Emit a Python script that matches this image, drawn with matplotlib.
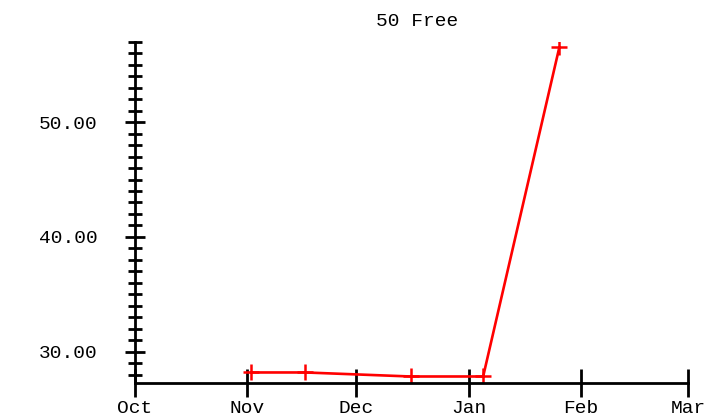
import matplotlib
matplotlib.use("Agg")
import matplotlib.pyplot as plt
import numpy as np
import pandas as pd

# tempos (50 livre) por data
datas = pd.to_datetime(["2013-11-02", "2013-11-17", "2013-12-16", "2014-01-05", "2014-01-26"])
tempos = [28.2, 28.2, 27.85, 27.85, 56.5]

meses = pd.to_datetime(["2013-10-01T00:00", "2013-11-01T00:00", "2013-12-01T00:00", "2014-01-01T00:00",
                        "2014-02-01T00:00", "2014-03-02T12:00"])
nomes_meses = ["Oct", "Nov", "Dec", "Jan", "Feb", "Mar"]
y_major = [30, 40, 50]
y_minor = np.arange(28, 58, 1)

fonte = "Liberation Mono"

fig = plt.figure(figsize=(7.08, 4.17), dpi=100)
ax = fig.add_axes([0.1907, 0.0820, 0.7811, 0.8180])

ax.plot(datas, tempos, color="red", lw=1.9, marker="+", ms=11, mew=1.8)

ax.set_xlim(meses[0], meses[-1])
ax.set_ylim(27.3, 57)

ax.set_xticks(meses)
ax.set_xticklabels(nomes_meses, fontfamily=fonte, fontsize=14)
ax.set_yticks(y_major)
ax.set_yticklabels(["%.2f" % v for v in y_major], fontfamily=fonte, fontsize=14)
ax.set_yticks(y_minor, minor=True)

for s in ["top", "right"]:
    ax.spines[s].set_visible(False)
for s in ["left", "bottom"]:
    ax.spines[s].set_linewidth(2)
    ax.spines[s].set_color("black")

ax.tick_params(axis="x", direction="inout", length=20, width=2, pad=2.5)
ax.tick_params(axis="y", which="major", direction="inout", length=14, width=2, pad=20)
ax.tick_params(axis="y", which="minor", direction="inout", length=9.5, width=2)

fig.text(417 / 708, 1 - 22 / 417, "50 Free", ha="center", va="center",
         fontfamily=fonte, fontsize=14)

fig.savefig("out.png", dpi=100)
